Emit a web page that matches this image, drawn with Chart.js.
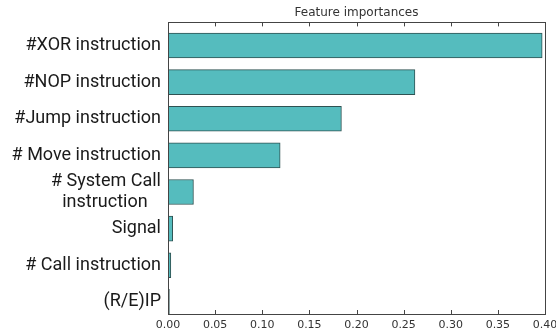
<!DOCTYPE html>
<html>
<head>
<meta charset="utf-8">
<script src="https://cdn.jsdelivr.net/npm/chart.js@4/dist/chart.umd.min.js"></script>
<style>
  html, body { margin: 0; padding: 0; background: #fff; }
  #wrap { width: 556px; height: 333px; }
</style>
</head>
<body>
<div id="wrap"><canvas id="imp"></canvas></div>
<script>
const features = [
    '#XOR instruction',
    '#NOP instruction',
    '#Jump instruction',
    '# Move instruction',
    ['# System Call', 'instruction   '],
    'Signal',
    '# Call instruction',
    '(R/E)IP'
];
const importances = [0.397, 0.262, 0.184, 0.119, 0.027, 0.005, 0.003, 0.0015];
const xTicks = [0, 0.05, 0.10, 0.15, 0.20, 0.25, 0.30, 0.35, 0.40];

// box around the plot + inward ticks like the old matplotlib style
const frame = {
    id: 'frame',
    afterDraw(chart) {
        const { ctx, chartArea: a, scales } = chart;
        ctx.save();
        ctx.strokeStyle = '#444';
        ctx.lineWidth = 1;
        ctx.beginPath();
        xTicks.forEach(v => {
            const px = Math.round(scales.x.getPixelForValue(v)) + 0.5;
            ctx.moveTo(px, a.top);
            ctx.lineTo(px, a.top + 4);
            ctx.moveTo(px, a.bottom);
            ctx.lineTo(px, a.bottom - 4);
        });
        ctx.stroke();
        ctx.strokeRect(Math.round(a.left) + 0.5, Math.round(a.top) + 0.5,
            Math.round(a.right - a.left), Math.round(a.bottom - a.top));
        ctx.restore();
    }
};

new Chart(document.getElementById('imp'), {
    type: 'bar',
    data: {
        datasets: [{
            data: importances.map((v, i) => ({ x: v, y: i })),
            backgroundColor: '#55bcbe',
            borderColor: '#2f5252',
            borderWidth: 1,
            borderSkipped: false,
            barThickness: 25
        }]
    },
    options: {
        indexAxis: 'y',
        responsive: true,
        maintainAspectRatio: false,
        animation: false,
        layout: { padding: 0 },
        plugins: {
            legend: { display: false },
            tooltip: { enabled: false },
            title: {
                display: true,
                text: 'Feature importances',
                fullSize: false,
                color: '#333',
                font: { family: 'DejaVu Sans', size: 12, weight: 'normal' },
                padding: { top: 6, bottom: 2 }
            }
        },
        scales: {
            x: {
                type: 'linear',
                min: 0,
                max: 0.4,
                afterBuildTicks: s => { s.ticks = xTicks.map(v => ({ value: v })); },
                afterFit: s => { s.height = 19; s.paddingLeft = 0; s.paddingRight = 11; },
                grid: { display: false, drawTicks: false },
                border: { display: false },
                ticks: {
                    padding: 5,
                    color: '#333',
                    font: { family: 'DejaVu Sans', size: 11 },
                    callback: v => v.toFixed(2)
                }
            },
            y: {
                type: 'linear',
                reverse: true,
                offset: false,
                min: -0.63,
                max: 7.33,
                afterBuildTicks: s => { s.ticks = features.map((_, i) => ({ value: i })); },
                afterFit: s => { s.width = 168; },
                grid: { display: false, drawTicks: false },
                border: { display: false },
                ticks: {
                    autoSkip: false,
                    padding: 7,
                    color: '#1a1a1a',
                    font: { family: 'Roboto', size: 18 },
                    callback: v => features[v]
                }
            }
        }
    },
    plugins: [frame]
});
</script>
</body>
</html>
